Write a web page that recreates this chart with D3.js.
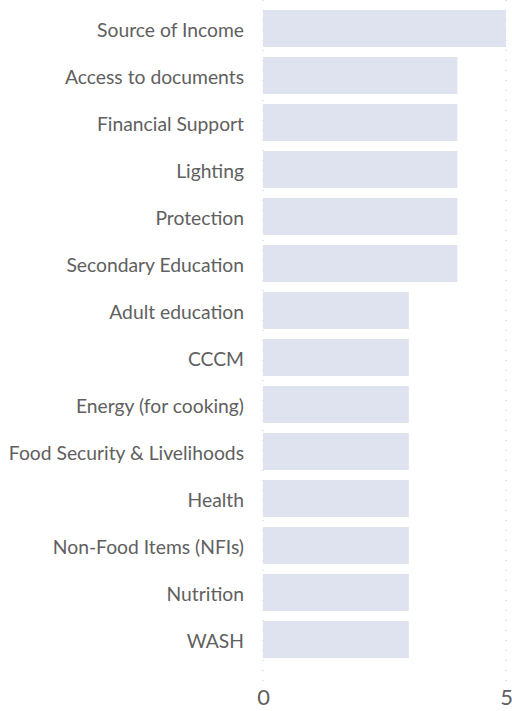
<!DOCTYPE html>
<html>
<head>
<meta charset="utf-8">
<script src="https://cdn.jsdelivr.net/npm/d3@7"></script>
<style>
  body { margin: 0; background: #fff; }
  #viz { width: 512px; height: 711px; }
  text { font-family: Lato, "Open Sans", sans-serif; }
</style>
</head>
<body>
<div id="viz"></div>
<script>
//Datos
const categories = ['Source of Income', 'Access to documents', 'Financial Support', 'Lighting', 'Protection',
    'Secondary Education', 'Adult education', 'CCCM', 'Energy (for cooking)', 'Food Security & Livelihoods',
    'Health', 'Non-Food Items (NFIs)', 'Nutrition', 'WASH'];
const values = [5, 4, 4, 4, 4, 4, 3, 3, 3, 3, 3, 3, 3, 3];
const xTicks = [0, 5];

const COLOR_BAR = '#dfe3f0',
    COLOR_TEXT = '#606060',
    COLOR_GRID = '#c8c8c8';

let data = categories.map(function(c, i) { return { cat: c, value: values[i] }; });

let margin = {top: 0, right: 6, bottom: 43, left: 263},
    width = 512 - margin.left - margin.right,
    height = 711 - margin.top - margin.bottom;

let svg = d3.select('#viz')
    .append('svg')
        .attr('width', 512)
        .attr('height', 711)
    .append('g')
        .attr('transform', 'translate(' + margin.left + ',' + margin.top + ')');

let x = d3.scaleLinear()
    .domain([0, 5])
    .range([0, width]);

let y = d3.scaleBand()
    .domain(categories)
    .range([0, height])
    .padding(0.213);

// Gridlines punteadas
svg.selectAll('.grid')
    .data(xTicks)
    .enter()
    .append('line')
    .attr('x1', function(d) { return x(d); })
    .attr('x2', function(d) { return x(d); })
    .attr('y1', 0)
    .attr('y2', height + 16)
    .attr('stroke', COLOR_GRID)
    .attr('stroke-width', 1)
    .attr('stroke-dasharray', '1,9');

// Bars
svg.selectAll('.bar')
    .data(data)
    .enter()
    .append('rect')
    .attr('class', 'bar')
    .attr('fill', COLOR_BAR)
    .attr('x', x(0))
    .attr('y', function(d) { return y(d.cat); })
    .attr('width', function(d) { return x(d.value) - x(0); })
    .attr('height', y.bandwidth());

// Y axis labels
let yAxis = svg.append('g')
    .call(d3.axisLeft(y).tickSize(0).tickPadding(19));
yAxis.select('.domain').remove();
yAxis.selectAll('text')
    .attr('fill', COLOR_TEXT)
    .attr('dy', '0.45em')
    .style('font-size', '19.3px')
    .style('font-family', 'Lato, sans-serif');

// X axis
let xAxis = svg.append('g')
    .attr('transform', 'translate(0,' + (height + 17) + ')')
    .call(d3.axisBottom(x).tickValues(xTicks).tickFormat(d3.format('d')).tickSize(0).tickPadding(4));
xAxis.select('.domain').remove();
xAxis.selectAll('text')
    .attr('fill', COLOR_TEXT)
    .style('font-size', '22px')
    .style('font-family', 'Lato, sans-serif');
</script>
</body>
</html>
